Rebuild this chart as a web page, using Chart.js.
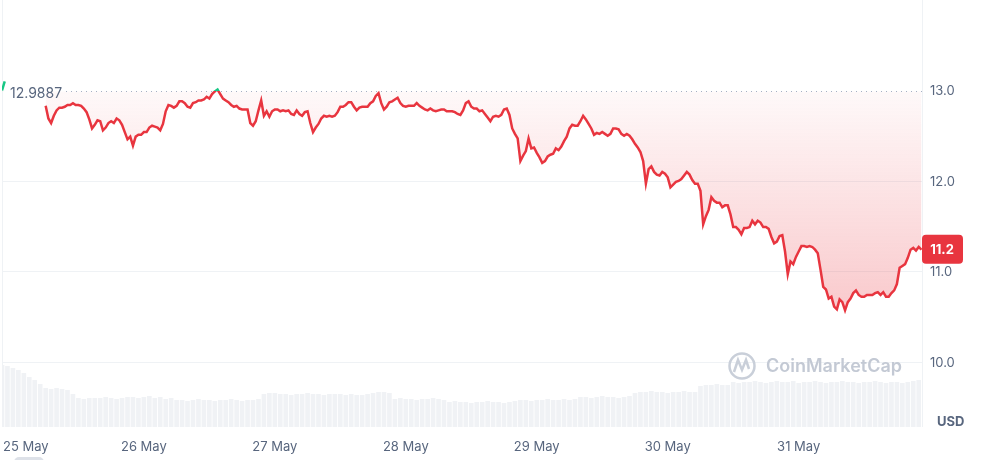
<!DOCTYPE html>
<html>
<head>
<meta charset="utf-8">
<script src="https://cdn.jsdelivr.net/npm/chart.js@4.4.0/dist/chart.umd.min.js"></script>
<style>
    html, body { margin: 0; padding: 0; background: #fff; }
    #wrap { width: 992px; height: 460px; position: relative; }
</style>
</head>
<body>
<div id="wrap"><canvas id="priceChart" width="992" height="460"></canvas></div>
<script>
// hours counted from 25 May 00:00
const startHour = -2;
const endHour = 166.6;
const priceStep = 0.5;   // one price every 30 min
const volumeStep = 1;    // one volume bar per hour

const prices = [
    13.00, 13.10, null, null, null, null, null, null, null, null, null, null, null, null, null, null,
    12.83, 12.69, 12.64, 12.72, 12.78, 12.81, 12.81, 12.82, 12.84, 12.84, 12.86, 12.84, 12.84, 12.83, 12.80, 12.76, 12.68, 12.58, 12.62, 12.67, 12.66, 12.56, 12.59, 12.64,
    12.66, 12.64, 12.69, 12.67, 12.62, 12.54, 12.46, 12.49, 12.39, 12.49, 12.51, 12.51, 12.54, 12.54, 12.59, 12.61, 12.60, 12.59, 12.56, 12.63, 12.77, 12.84, 12.83, 12.81,
    12.83, 12.88, 12.88, 12.86, 12.82, 12.81, 12.86, 12.87, 12.89, 12.89, 12.90, 12.93, 12.91, 12.96, 12.99, 13.01, 12.96, 12.91, 12.89, 12.87, 12.84, 12.82, 12.83, 12.80,
    12.79, 12.79, 12.79, 12.64, 12.61, 12.66, 12.78, 12.89, 12.72, 12.77, 12.71, 12.77, 12.79, 12.79, 12.77, 12.78, 12.77, 12.78, 12.74, 12.73, 12.78, 12.74, 12.72, 12.76,
    12.77, 12.64, 12.54, 12.59, 12.63, 12.69, 12.72, 12.71, 12.72, 12.71, 12.72, 12.76, 12.82, 12.82, 12.84, 12.87, 12.87, 12.82, 12.78, 12.81, 12.82, 12.82, 12.82, 12.86,
    12.88, 12.94, 12.97, 12.86, 12.79, 12.82, 12.87, 12.88, 12.90, 12.92, 12.86, 12.83, 12.82, 12.83, 12.83, 12.83, 12.86, 12.83, 12.81, 12.79, 12.78, 12.80, 12.78, 12.77,
    12.78, 12.79, 12.79, 12.77, 12.77, 12.77, 12.76, 12.74, 12.73, 12.78, 12.86, 12.88, 12.82, 12.80, 12.80, 12.77, 12.78, 12.74, 12.70, 12.66, 12.71, 12.72, 12.71, 12.73,
    12.79, 12.80, 12.73, 12.58, 12.52, 12.47, 12.22, 12.28, 12.33, 12.47, 12.36, 12.37, 12.31, 12.26, 12.20, 12.22, 12.27, 12.29, 12.30, 12.36, 12.34, 12.38, 12.44, 12.49,
    12.58, 12.62, 12.61, 12.61, 12.66, 12.72, 12.68, 12.63, 12.58, 12.51, 12.53, 12.52, 12.54, 12.52, 12.50, 12.52, 12.58, 12.58, 12.57, 12.52, 12.50, 12.52, 12.50, 12.46,
    12.41, 12.37, 12.32, 12.22, 11.97, 12.13, 12.16, 12.10, 12.07, 12.06, 12.10, 12.08, 12.04, 11.93, 11.96, 11.99, 12.00, 12.02, 12.06, 12.10, 12.07, 12.01, 11.97, 11.97,
    11.89, 11.52, 11.61, 11.68, 11.82, 11.78, 11.76, 11.76, 11.71, 11.73, 11.73, 11.63, 11.49, 11.49, 11.46, 11.41, 11.48, 11.48, 11.49, 11.56, 11.52, 11.56, 11.54, 11.49,
    11.49, 11.47, 11.38, 11.31, 11.33, 11.39, 11.40, 11.22, 10.97, 11.11, 11.08, 11.16, 11.22, 11.28, 11.28, 11.27, 11.28, 11.27, 11.24, 11.20, 11.02, 10.83, 10.80, 10.70,
    10.72, 10.61, 10.58, 10.69, 10.66, 10.57, 10.66, 10.70, 10.76, 10.79, 10.74, 10.72, 10.72, 10.74, 10.74, 10.74, 10.76, 10.77, 10.74, 10.77, 10.72, 10.72, 10.76, 10.79,
    10.86, 11.04, 11.06, 11.08, 11.15, 11.24, 11.26, 11.23, 11.27, 11.24
];

// volume in millions USD
const volumes = [
    6.2, 6.1, 5.9, 5.7, 5.4, 5.0, 4.7, 4.3, 3.9, 3.8, 3.9, 3.8, 3.7, 3.3,
    2.9, 2.8, 2.9, 2.9, 2.9, 3.0, 2.9, 2.8, 2.9,
    3.0, 3.0, 2.9, 3.0, 3.1, 2.9, 3.0, 2.8, 2.9,
    2.7, 2.7, 2.6, 2.7, 2.8, 2.7, 2.7, 2.6, 2.7, 2.7, 2.8, 2.7, 2.6, 2.7, 2.7, 2.8,
    3.3, 3.4, 3.4, 3.3, 3.3, 3.2, 3.3, 3.3, 3.4, 3.3, 3.3, 3.2, 3.3, 3.3, 3.3, 3.2, 3.3, 3.2, 3.2, 3.3, 3.4, 3.5,
    3.5, 3.4,
    2.8, 2.9, 2.8, 2.8, 2.7, 2.8, 2.8, 2.9, 2.8, 2.7,
    2.5, 2.6, 2.5, 2.5, 2.4, 2.5, 2.5, 2.6, 2.5, 2.5, 2.4, 2.5, 2.6,
    2.7, 2.7, 2.6, 2.7, 2.7, 2.8, 2.7, 2.7, 2.8, 2.7, 2.8,
    3.0, 3.0, 2.9, 3.0, 3.1, 3.0, 3.0, 2.9, 3.0, 3.1,
    3.4, 3.5, 3.5, 3.6, 3.5, 3.5, 3.4, 3.5, 3.5, 3.6, 3.5, 3.5,
    4.1, 4.2, 4.2, 4.3, 4.2, 4.2,
    4.5, 4.4, 4.5, 4.5, 4.6, 4.5, 4.4, 4.5, 4.6, 4.5, 4.5, 4.6, 4.4, 4.5, 4.5, 4.6, 4.5, 4.4,
    4.5, 4.5, 4.6, 4.5, 4.5, 4.4, 4.5, 4.5, 4.6, 4.5, 4.4, 4.5, 4.5, 4.4, 4.5, 4.6, 4.7
];

const dayTicks = [0, 24, 48, 72, 96, 120, 144];
const dayLabels = ['25 May', '26 May', '27 May', '28 May', '29 May', '30 May', '31 May'];
const priceTicks = [10, 11, 12, 13];
const gridTicks = [10, 11, 12];
const openPrice = 12.9887;
const lastPrice = '11.2';

const RED = '#e8353f';
const GREEN = '#16c784';
const TEXT = '#58667e';
const FONT = 'Inter, "Noto Sans", sans-serif';

function splitStroke(context) {
    const chart = context.chart;
    const area = chart.chartArea;
    if (!area) return RED;
    const yb = chart.scales.y.getPixelForValue(openPrice);
    const f = Math.min(1, Math.max(0, (yb - area.top) / (area.bottom - area.top)));
    const g = chart.ctx.createLinearGradient(0, area.top, 0, area.bottom);
    g.addColorStop(0, GREEN);
    g.addColorStop(f, GREEN);
    g.addColorStop(f, RED);
    g.addColorStop(1, RED);
    return g;
}

function areaFill(context) {
    const chart = context.chart;
    const area = chart.chartArea;
    if (!area) return 'rgba(234,57,67,0.1)';
    const yb = chart.scales.y.getPixelForValue(openPrice);
    const yLow = chart.scales.y.getPixelForValue(10.5);
    const h = area.bottom - area.top;
    const f = (yb - area.top) / h;
    const g = chart.ctx.createLinearGradient(0, area.top, 0, area.bottom);
    g.addColorStop(0, 'rgba(22,199,132,0.15)');
    g.addColorStop(f, 'rgba(22,199,132,0.02)');
    g.addColorStop(f, 'rgba(234,57,67,0.03)');
    g.addColorStop((yLow - area.top) / h, 'rgba(234,57,67,0.28)');
    g.addColorStop(1, 'rgba(234,57,67,0.28)');
    return g;
}

const decorations = {
    id: 'decorations',
    beforeDatasetsDraw(chart) {
        const { ctx, chartArea, scales } = chart;
        ctx.save();
        ctx.strokeStyle = '#eff2f5';
        ctx.lineWidth = 1;
        gridTicks.forEach(v => {
            const y = Math.round(scales.y.getPixelForValue(v)) + 0.5;
            ctx.beginPath();
            ctx.moveTo(chartArea.left, y);
            ctx.lineTo(chartArea.right, y);
            ctx.stroke();
        });
        [chartArea.left + 0.5, chartArea.right + 0.5].forEach(x => {
            ctx.beginPath();
            ctx.moveTo(x, 0);
            ctx.lineTo(x, chartArea.bottom);
            ctx.stroke();
        });
        ctx.restore();
    },
    afterDatasetsDraw(chart) {
        const { ctx, chartArea, scales } = chart;
        ctx.save();

        // open price reference line
        const yb = Math.round(scales.y.getPixelForValue(openPrice)) + 0.5;
        ctx.strokeStyle = '#a6b0c3';
        ctx.setLineDash([1, 4]);
        ctx.beginPath();
        ctx.moveTo(66, yb);
        ctx.lineTo(chartArea.right, yb);
        ctx.stroke();
        ctx.setLineDash([]);
        ctx.font = '14px ' + FONT;
        ctx.fillStyle = TEXT;
        ctx.textBaseline = 'middle';
        ctx.textAlign = 'left';
        ctx.fillText(openPrice.toString(), 10, yb + 2);

        // right price axis
        ctx.font = '13px ' + FONT;
        priceTicks.forEach(v => {
            ctx.fillText(v.toFixed(1), 930, scales.y.getPixelForValue(v) + 1);
        });
        ctx.font = 'bold 13px ' + FONT;
        ctx.fillText('USD', 937, 422);

        // day labels
        ctx.font = '13px ' + FONT;
        ctx.textAlign = 'center';
        dayTicks.forEach((t, i) => {
            let x = scales.x.getPixelForValue(t);
            const w = ctx.measureText(dayLabels[i]).width;
            x = Math.max(x, 3 + w / 2);
            ctx.fillText(dayLabels[i], x, 447);
        });

        // current price tag
        const last = prices[prices.length - 1];
        const yl = scales.y.getPixelForValue(last);
        ctx.fillStyle = RED;
        ctx.beginPath();
        ctx.roundRect(922, yl - 15, 41, 29, 4);
        ctx.fill();
        ctx.fillStyle = '#fff';
        ctx.font = 'bold 13px ' + FONT;
        ctx.fillText(lastPrice, 942, yl);

        // watermark
        ctx.strokeStyle = '#c9cfd9';
        ctx.lineWidth = 2.5;
        ctx.beginPath();
        ctx.arc(742, 366, 12.5, 0, Math.PI * 2);
        ctx.stroke();
        ctx.beginPath();
        ctx.moveTo(734, 372);
        ctx.lineTo(738, 360);
        ctx.lineTo(742, 370);
        ctx.lineTo(746, 360);
        ctx.lineTo(749, 369);
        ctx.stroke();
        ctx.fillStyle = '#c3c9d4';
        ctx.font = '600 18px ' + FONT;
        ctx.textAlign = 'left';
        ctx.fillText('CoinMarketCap', 766, 367);

        // range slider handle peeking at the bottom
        ctx.fillStyle = '#dde1e8';
        ctx.beginPath();
        ctx.roundRect(14, 457, 30, 10, 5);
        ctx.fill();

        ctx.restore();
    }
};

const ctx = document.getElementById('priceChart').getContext('2d');
new Chart(ctx, {
    type: 'line',
    data: {
        datasets: [{
            type: 'line',
            label: 'Price',
            data: prices.map((p, i) => ({ x: startHour + i * priceStep, y: p })),
            yAxisID: 'y',
            borderColor: splitStroke,
            backgroundColor: areaFill,
            borderWidth: 2.5,
            pointRadius: 0,
            tension: 0,
            spanGaps: false,
            fill: { target: { value: openPrice } },
            order: 1
        }, {
            type: 'bar',
            label: 'Volume',
            data: volumes.map((v, i) => ({ x: startHour + i * volumeStep, y: v })),
            yAxisID: 'yVol',
            backgroundColor: '#f0f2f5',
            barPercentage: 0.85,
            categoryPercentage: 1,
            order: 2
        }]
    },
    options: {
        responsive: false,
        animation: false,
        devicePixelRatio: 1,
        layout: { padding: { left: 2, right: 70, top: 0, bottom: 33 } },
        scales: {
            x: { type: 'linear', min: startHour, max: endHour, offset: false, display: false },
            y: { min: 9.28, max: 14.0, display: false },
            yVol: { min: 0, max: 42.7, display: false }
        },
        plugins: {
            legend: { display: false },
            tooltip: { enabled: false }
        }
    },
    plugins: [decorations]
});
</script>
</body>
</html>
